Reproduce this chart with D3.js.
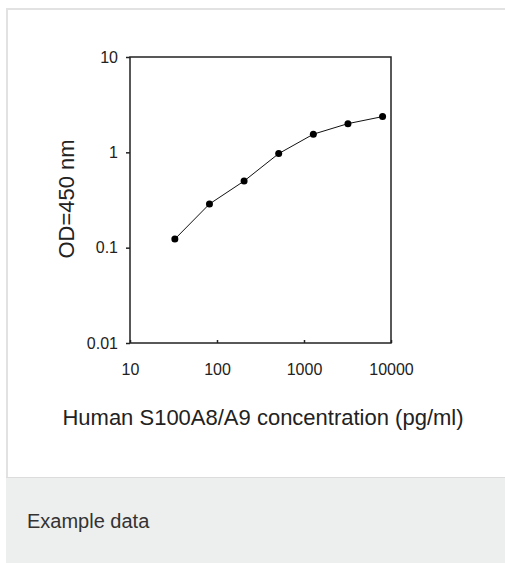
<!DOCTYPE html>
<html>
<head>
<meta charset="utf-8">
<script src="https://cdn.jsdelivr.net/npm/d3@7"></script>
<style>
  body { margin: 0; background: #fff; }
  svg { display: block; }
</style>
</head>
<body>
<svg id="chart" width="505" height="563"></svg>
<script>
// standard curve, 2.5-fold dilutions
var concentration = [32.768, 81.92, 204.8, 512, 1280, 3200, 8000];
var od = [0.123, 0.287, 0.50, 0.97, 1.55, 2.0, 2.37];
var xTicks = [10, 100, 1000, 10000];
var yTicks = [0.01, 0.1, 1, 10];

var font = "'Liberation Sans', Arial, sans-serif";
var svg = d3.select("#chart");

// card + footer
svg.append("rect")
  .attr("x", 7).attr("y", 9).attr("width", 510).attr("height", 600)
  .attr("fill", "#fff").attr("stroke", "#e2e2e2").attr("stroke-width", 2);
svg.append("rect")
  .attr("x", 6).attr("y", 477).attr("width", 505).attr("height", 90)
  .attr("fill", "#edeeee");
svg.append("line")
  .attr("x1", 6).attr("x2", 505).attr("y1", 477.5).attr("y2", 477.5)
  .attr("stroke", "#dcdcdc");
svg.append("text")
  .attr("x", 27).attr("y", 528)
  .attr("font-family", font).attr("font-size", 20).attr("fill", "#333")
  .text("Example data");

// plot area
var plotL = 130, plotR = 391, plotT = 57, plotB = 343;

var x = d3.scaleLog().domain([10, 10000]).range([plotL, plotR]);
var y = d3.scaleLog().domain([0.01, 10]).range([plotB, plotT]);

var g = svg.append("g");

// frame
g.append("rect")
  .attr("x", plotL).attr("y", plotT)
  .attr("width", plotR - plotL).attr("height", plotB - plotT)
  .attr("fill", "none").attr("stroke", "#222").attr("stroke-width", 1.5);

// y axis
var yAxis = g.append("g")
  .attr("transform", `translate(${plotL},0)`)
  .call(d3.axisLeft(y).tickValues(yTicks).tickSize(4).tickPadding(8)
    .tickFormat(d => String(d)));
yAxis.select(".domain").remove();
yAxis.selectAll("line").attr("stroke", "#222").attr("stroke-width", 1.5);
yAxis.selectAll("text")
  .attr("font-family", font).attr("font-size", 16).attr("fill", "#222");

// x axis
var xAxis = g.append("g")
  .attr("transform", `translate(0,${plotB})`)
  .call(d3.axisBottom(x).tickValues(xTicks).tickSize(-3).tickPadding(21)
    .tickFormat(d => String(d)));
xAxis.select(".domain").remove();
xAxis.selectAll("line").attr("stroke", "#222").attr("stroke-width", 1.5);
xAxis.selectAll("text")
  .attr("font-family", font).attr("font-size", 16).attr("fill", "#222");

// axis titles
g.append("text")
  .attr("x", 263).attr("y", 425)
  .attr("text-anchor", "middle")
  .attr("font-family", font).attr("font-size", 22).attr("fill", "#222")
  .text("Human S100A8/A9 concentration (pg/ml)");

g.append("text")
  .attr("transform", "translate(74,199) rotate(-90)")
  .attr("text-anchor", "middle")
  .attr("font-family", font).attr("font-size", 22).attr("fill", "#222")
  .text("OD=450 nm");

// curve
var pts = concentration.map((c, i) => [c, od[i]]);
var line = d3.line().x(d => x(d[0])).y(d => y(d[1]));

g.append("path")
  .attr("d", line(pts))
  .attr("fill", "none").attr("stroke", "#111").attr("stroke-width", 1);

g.selectAll("circle")
  .data(pts)
  .enter()
  .append("circle")
  .attr("cx", d => x(d[0]))
  .attr("cy", d => y(d[1]))
  .attr("r", 3.5)
  .attr("fill", "#000");
</script>
</body>
</html>
